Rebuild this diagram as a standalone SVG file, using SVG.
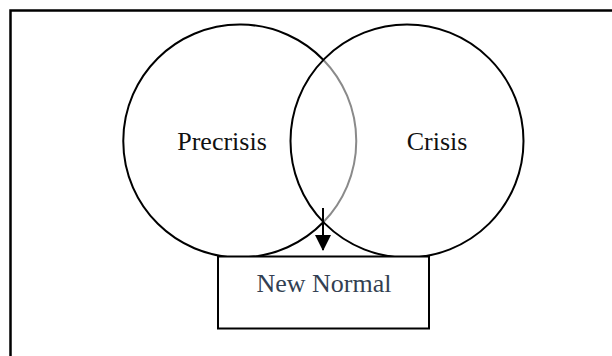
<svg xmlns="http://www.w3.org/2000/svg" width="612" height="356" viewBox="0 0 612 356">
<defs>
<style>
.c{fill:none;stroke:#000;stroke-width:2}
.t{font-family:"Liberation Serif","Times New Roman",serif;font-size:26px;fill:#111;text-anchor:middle}
.nn{fill:#333f52}
</style>
<marker id="ah" markerWidth="16" markerHeight="16" refX="15" refY="8" orient="auto" markerUnits="userSpaceOnUse" viewBox="0 0 16 16">
<path d="M0,0 L16,8 L0,16 Z" fill="#000"/>
</marker>
</defs>
<rect width="612" height="356" fill="#fff"/>
<path d="M10.5,356 V10.5 H612" fill="none" stroke="#000" stroke-width="2.5"/>
<g id="precrisis">
<path class="c" d="M323.5,60 A116.5,116.5 0 1 0 323.5,222"/>
<path d="M323.5,60 A116.5,116.5 0 0 1 323.5,222" fill="none" stroke="#8a8a8a" stroke-width="2"/>
<text class="t" x="222" y="149.5">Precrisis</text>
</g>
<g id="crisis">
<circle class="c" cx="407" cy="141" r="116.5"/>
<text class="t" x="437" y="150">Crisis</text>
</g>
<g id="newnormal">
<rect x="218" y="256.5" width="211" height="72" fill="#fff" stroke="#000" stroke-width="2"/>
<text class="t nn" x="324" y="292">New Normal</text>
</g>
<g id="connectors">
<line x1="323" y1="208" x2="323" y2="250" stroke="#000" stroke-width="2" marker-end="url(#ah)"/>
</g>
</svg>
